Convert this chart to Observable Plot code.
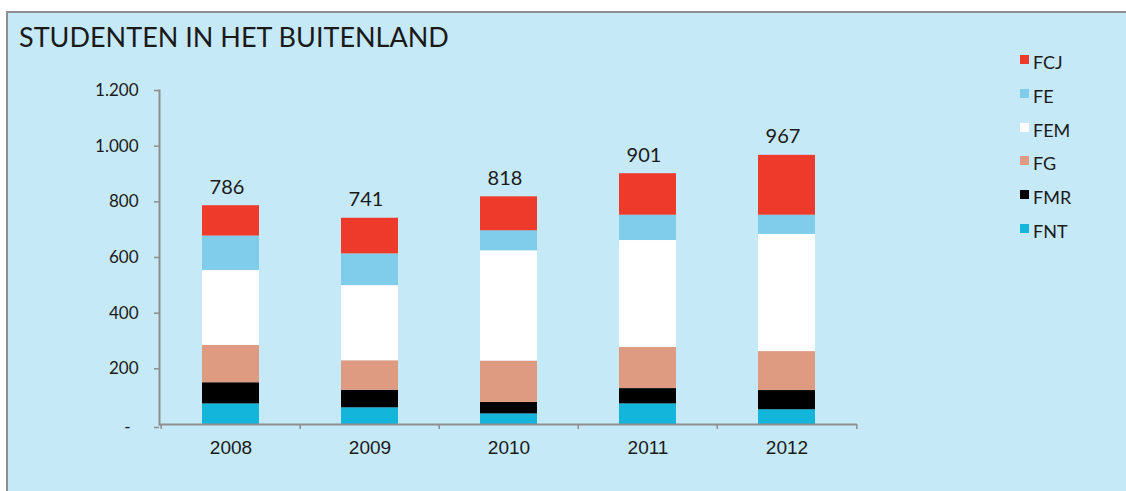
<!DOCTYPE html>
<html><head><meta charset="utf-8">
<script src="https://cdn.jsdelivr.net/npm/d3@7"></script>
<script src="https://cdn.jsdelivr.net/npm/@observablehq/plot@0.6"></script>
<style>
html,body{margin:0;padding:0;background:#fff;}
body{width:1126px;height:491px;overflow:hidden;position:relative;font-family:Lato,sans-serif;color:#1a1a1a;}
#panel{position:absolute;left:6px;top:11px;width:1120px;height:480px;background:#c6e9f8;border-left:2px solid #8e8e8e;border-top:2px solid #8e8e8e;box-sizing:border-box;}
#title{position:absolute;left:19px;top:23px;font-size:27px;line-height:27px;white-space:nowrap;}
#chart{position:absolute;left:0;top:0;}
.lg{position:absolute;left:1020px;font-size:18px;line-height:18px;white-space:nowrap;}
.lg .sw{position:absolute;left:0;top:2px;width:9px;height:9px;}
.lg .tx{position:absolute;left:13px;top:0;}
</style>
</head><body>
<div id="panel"></div>
<div id="chart"></div>
<div id="title">STUDENTEN IN HET BUITENLAND</div>
<div id="legend"></div>
<script>
const years = ["2008","2009","2010","2011","2012"];
const series = ["FNT","FMR","FG","FEM","FE","FCJ"];        // bottom → top
const colors = ["#13b5db","#000000","#df9b82","#ffffff","#7fcdea","#ee3a2b"];
const legendOrder = ["FCJ","FE","FEM","FG","FMR","FNT"];
const FNT = [74, 60, 38, 74, 53];
const FMR = [76, 63, 41, 55, 69];
const FG  = [134, 106, 149, 148, 140];
const FEM = [269, 270, 396, 384, 421];
const FE  = [124, 114, 72, 91, 69];
const FCJ = [109, 128, 122, 149, 215];
const totals = [786, 741, 818, 901, 967];
const yTicks = [200, 400, 600, 800, 1000, 1200];

const valuesBySeries = {FNT, FMR, FG, FEM, FE, FCJ};
const data = [];
series.forEach(s => years.forEach((y, i) => data.push({year: y, series: s, value: valuesBySeries[s][i]})));
const totalData = years.map((y, i) => ({year: y, total: totals[i]}));

const W = 1126, H = 491, mL = 159, mR = 269;
const half = (W - mL - mR) / years.length / 2;
const fmt = d => d3.format(",")(d).replace(/,/g, ".");

const chart = Plot.plot({
  width: W, height: H,
  marginLeft: mL, marginRight: mR, marginTop: 90, marginBottom: 67,
  style: {background: "transparent", fontFamily: "Lato, sans-serif", color: "#1a1a1a"},
  x: {domain: years, paddingInner: 0.59, paddingOuter: 0.295, label: null},
  y: {domain: [0, 1200], label: null},
  color: {domain: series, range: colors},
  marks: [
    Plot.barY(data, {x: "year", y: "value", fill: "series", order: series}),
    Plot.text(totalData, {x: "year", y: "total", text: d => String(d.total), dy: -12, dx: -4, lineAnchor: "bottom", fontSize: 20, fill: "#1a1a1a"}),
    Plot.axisY({ticks: yTicks, tickSize: 5, tickPadding: 16, tickFormat: fmt, fontSize: 17, stroke: "#8e8e8e", strokeWidth: 1.5, label: null}),
    Plot.axisY({ticks: [0], tickSize: 5, tickPadding: 24, tickFormat: () => "-", fontSize: 17, dy: 3, stroke: "#8e8e8e", strokeWidth: 1.5, label: null}),
    Plot.axisX({tickSize: 0, tickPadding: 16, fontSize: 19, fontFamily: "Liberation Sans, Arial, sans-serif", label: null}),
    Plot.axisX({tickSize: 5, tickFormat: () => "", dx: -half, stroke: "#8e8e8e", strokeWidth: 1.5, label: null}),
    Plot.axisX({ticks: [years[years.length - 1]], tickSize: 5, tickFormat: () => "", dx: half, stroke: "#8e8e8e", strokeWidth: 1.5, label: null}),
    Plot.ruleY([0], {stroke: "#8e8e8e", strokeWidth: 2}),
    Plot.frame({anchor: "left", stroke: "#8e8e8e", strokeWidth: 2})
  ]
});
document.getElementById("chart").appendChild(chart);

const lg = document.getElementById("legend");
legendOrder.forEach((s, i) => {
  const d = document.createElement("div");
  d.className = "lg";
  d.style.top = (53 + i * 33.8) + "px";
  const sw = document.createElement("div");
  sw.className = "sw";
  sw.style.background = colors[series.indexOf(s)];
  const tx = document.createElement("div");
  tx.className = "tx";
  tx.textContent = s;
  d.appendChild(sw); d.appendChild(tx);
  lg.appendChild(d);
});
</script>
</body></html>
